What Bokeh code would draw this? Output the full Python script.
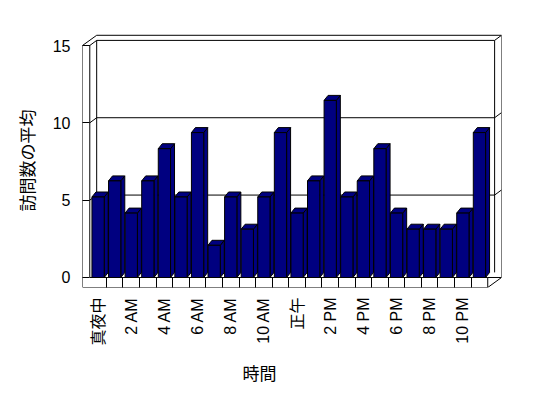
import math
from bokeh.plotting import figure
from bokeh.models import Range1d, FixedTicker, Title
from bokeh.embed import file_html
from bokeh.resources import INLINE

# ---- data ----
hour_index = list(range(24))
visits = [5, 6, 4, 6, 8, 5, 9, 2, 5, 3, 5, 9, 4, 6, 11, 5, 6, 8, 4, 3, 3, 3, 4, 9]
tick_positions = [0, 2, 4, 6, 8, 10, 12, 14, 16, 18, 20, 22]
tick_labels = ["真夜中", "2 AM", "4 AM", "6 AM", "8 AM", "10 AM",
               "正午", "2 PM", "4 PM", "6 PM", "8 PM", "10 PM"]
y_ticks = [0, 5, 10, 15]
y_grid = [5, 10]
x_title = "時間"
y_title = "訪問数の平均"

FONT = "Liberation Sans, Noto Sans CJK JP"
NAVY = "#000080"

# ---- geometry of the 3D box (data units) ----
XS, XE = -0.94, 24.33
YS, YE = -0.6466, 15.776
L, R, T = -0.5, 23.5, 15
DX, DY = 0.415, 0.33
BW, BDX, BDY = 0.74, 0.24, 0.31

p = figure(width=540, height=398, output_backend="svg", toolbar_location=None,
           x_range=Range1d(XS, XE), y_range=Range1d(YS, YE),
           min_border_left=82, min_border_right=39,
           min_border_top=33, min_border_bottom=111)
p.extra_y_ranges = {"bars": Range1d(-0.621, 15.155)}
p.outline_line_color = None
p.xgrid.visible = False
p.ygrid.visible = False
p.background_fill_color = "white"
p.border_fill_color = "white"

# outer outline of the box
p.patch([XS, XS, L + DX, R + 2 * DX, R + 2 * DX, R],
        [YS, T, T + 2 * DY, T + 2 * DY, 0, YS],
        fill_color="white", line_color="black", line_width=1)

segs_x0, segs_y0, segs_x1, segs_y1 = [], [], [], []
def seg(a, b, c, d):
    segs_x0.append(a); segs_y0.append(b); segs_x1.append(c); segs_y1.append(d)

seg(L, 0, L, T)
seg(XS, T, L, T)
seg(L, T, L + DX, T + DY)
seg(L + DX, T + DY, R + DX, T + DY)
seg(R + DX, T + DY, R + 2 * DX, T + 2 * DY)
seg(L + DX, T + DY, L + DX, DY)
seg(R + DX, T + DY, R + DX, DY)
seg(L, 0, R, 0)
seg(R, 0, R, YS)
seg(R, 0, R + 2 * DX, 0)
for v in y_grid:
    seg(L, v, L + DX, v + DY)
    seg(L + DX, v + DY, R + DX, v + DY)
    seg(R + DX, v + DY, R + 2 * DX, v + 2 * DY)
p.segment(segs_x0, segs_y0, segs_x1, segs_y1, line_color="black", line_width=1)

# bars: side and top faces, then front faces
side_xs, side_ys, top_xs, top_ys = [], [], [], []
for i, v in zip(hour_index, visits):
    a, b = i - BW / 2, i + BW / 2
    side_xs.append([b, b + BDX, b + BDX, b])
    side_ys.append([0, BDY, v + BDY, v])
    top_xs.append([a, a + BDX, b + BDX, b])
    top_ys.append([v, v + BDY, v + BDY, v])
p.patches(side_xs, side_ys, fill_color=NAVY, line_color="black", line_width=1,
          y_range_name="bars")
p.patches(top_xs, top_ys, fill_color=NAVY, line_color="black", line_width=1,
          y_range_name="bars")
p.vbar(x=hour_index, top=visits, bottom=0, width=BW, fill_color=NAVY,
       line_color="black", line_width=1, y_range_name="bars")

# axes
xa = p.xaxis[0]
xa.ticker = FixedTicker(ticks=tick_positions, minor_ticks=[i + 0.5 for i in range(23)])
xa.major_label_overrides = {t: s for t, s in zip(tick_positions, tick_labels)}
xa.major_label_orientation = math.pi / 2
xa.major_tick_in = 0
xa.major_tick_out = 0
xa.minor_tick_in = 10
xa.minor_tick_out = 0
xa.minor_tick_line_color = "black"
xa.axis_line_color = None
xa.major_label_standoff = 10
xa.major_label_text_font = FONT
xa.major_label_text_font_size = "16px"
xa.major_label_text_color = "black"

# x-axis title, centred under the whole chart area (as in the original)
p.add_layout(Title(text=x_title, align="left", offset=160, standoff=29,
                   text_font=FONT, text_font_size="17px",
                   text_font_style="normal", text_color="black"), "below")

ya = p.yaxis[0]
ya.ticker = FixedTicker(ticks=y_ticks, minor_ticks=[])
ya.major_tick_in = 7
ya.major_tick_out = 0
ya.major_tick_line_color = "black"
ya.axis_line_color = None
ya.major_label_standoff = 12
ya.major_label_text_font = FONT
ya.major_label_text_font_size = "16px"
ya.major_label_text_color = "black"
ya.axis_label = y_title
ya.axis_label_text_font = FONT
ya.axis_label_text_font_size = "17px"
ya.axis_label_text_font_style = "normal"
ya.axis_label_text_color = "black"
ya.axis_label_standoff = 12

open("out.html", "w").write(file_html(p, INLINE))
